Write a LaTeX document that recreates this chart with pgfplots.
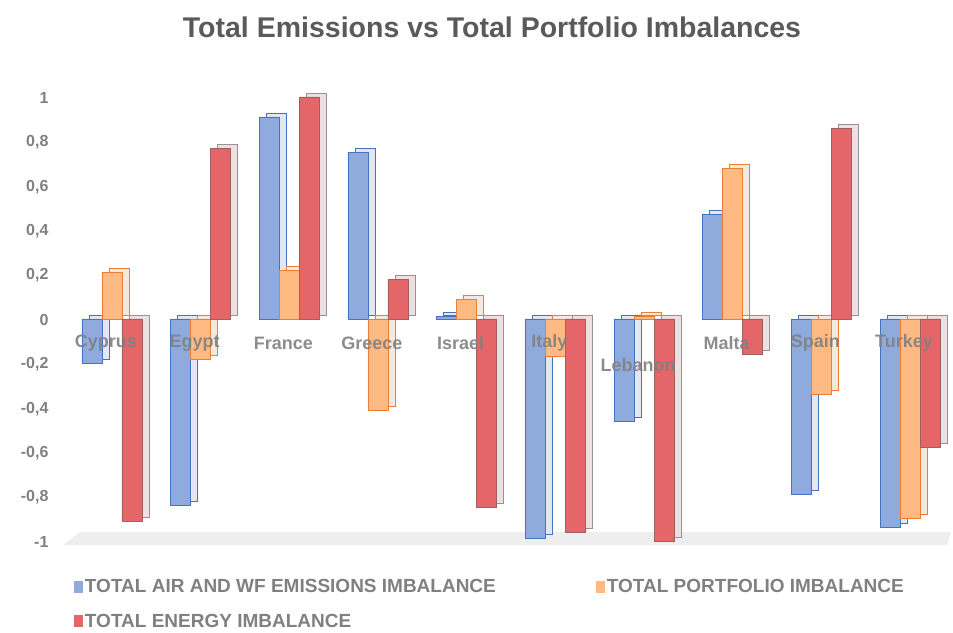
\documentclass[border=0pt]{standalone}
\usepackage{fontspec}
\setmainfont{Liberation Sans}
\usepackage{pgfplots}
\usepackage{pgfplotstable}
\pgfplotsset{compat=1.18}

\definecolor{fblue}{HTML}{8FAADC}
\definecolor{eblue}{HTML}{4472C4}
\definecolor{sblue}{HTML}{E4E7EF}
\definecolor{forange}{HTML}{FFB983}
\definecolor{eorange}{HTML}{ED7D31}
\definecolor{sorange}{HTML}{F4E8DF}
\definecolor{fred}{HTML}{E46668}
\definecolor{ered}{HTML}{A06060}
\definecolor{sred}{HTML}{ECE0E0}
\definecolor{sredge}{HTML}{9A9090}
\definecolor{txtgray}{HTML}{808080}
\definecolor{titlegray}{HTML}{5A5A5A}
\definecolor{floorgray}{HTML}{EEEEEE}

\pgfplotstableread{
i country  air    port   energy
0 Cyprus   -0.20  0.21  -0.91
1 Egypt    -0.84 -0.18   0.77
2 France    0.91  0.22   1.00
3 Greece    0.75 -0.41   0.18
4 Israel    0.01  0.09  -0.85
5 Italy    -0.99 -0.17  -0.96
6 Lebanon  -0.46  0.01  -1.00
7 Malta     0.47  0.68  -0.16
8 Spain    -0.79 -0.34   0.86
9 Turkey   -0.94 -0.90  -0.58
}\data

\begin{document}
\begin{tikzpicture}[x=1pt,y=1pt]
\path[use as bounding box] (0,0) rectangle (953,632);
\fill[floorgray] (63,87) -- (80,100) -- (951,100) -- (947,87) -- cycle;
\node[font=\bfseries\fontsize{28.5}{32}\selectfont, text=titlegray] at (492,605) {Total Emissions vs Total Portfolio Imbalances};
\begin{axis}[
  at={(72pt,91pt)}, anchor=south west,
  scale only axis, width=878pt, height=444pt,
  xmin=-0.45, xmax=9.45, ymin=-1, ymax=1,
  clip=false,
  axis line style={draw=none},
  xtick=\empty,
  ytick={-1,-0.8,-0.6,-0.4,-0.2,0,0.2,0.4,0.6,0.8,1},
  major tick length=0pt,
  /pgf/number format/assume math mode=true,
  /pgf/number format/use comma,
  /pgf/number format/fixed,
  /pgf/number format/precision=1,
  yticklabel style={font=\bfseries\fontsize{16}{19}\selectfont, text=txtgray, anchor=east, xshift=-20pt, yshift=-1pt},
  legend columns=2,
  legend cell align=left,
  legend style={at={(0.002,-0.081)}, anchor=north west, draw=none, fill=none,
    font=\bfseries\fontsize{19}{22}\selectfont, text=txtgray,
    row sep=16pt, inner sep=0pt,
    /tikz/column 2/.style={column sep=98pt}},
  legend image code/.code={\fill[#1, draw=none] (0pt,-6pt) rectangle (9pt,6pt);},
]
% depth (side/top faces)
\addplot[ybar, bar width=20pt, bar shift=-20pt, fill=sblue, draw=eblue, line width=0.8pt, xshift=7pt, yshift=4pt, forget plot] table[x=i,y=air] {\data};
\addplot[ybar, bar width=20pt, bar shift=0pt, fill=sorange, draw=eorange, line width=0.8pt, xshift=7pt, yshift=4pt, forget plot] table[x=i,y=port] {\data};
\addplot[ybar, bar width=20pt, bar shift=20pt, fill=sred, draw=sredge, line width=0.8pt, xshift=7pt, yshift=4pt, forget plot] table[x=i,y=energy] {\data};
% front faces
\addplot[ybar, bar width=20pt, bar shift=-20pt, fill=fblue, draw=eblue, line width=0.8pt] table[x=i,y=air] {\data};
\addlegendentry{TOTAL AIR AND WF EMISSIONS IMBALANCE}
\addplot[ybar, bar width=20pt, bar shift=0pt, fill=forange, draw=eorange, line width=0.8pt] table[x=i,y=port] {\data};
\addlegendentry{TOTAL PORTFOLIO IMBALANCE}
\addplot[ybar, bar width=20pt, bar shift=20pt, fill=fred, draw=ered, line width=0.8pt] table[x=i,y=energy] {\data};
\addlegendentry{TOTAL ENERGY IMBALANCE}
% category labels
\tikzset{cat/.style={font=\bfseries\fontsize{18}{21}\selectfont, text=txtgray, text opacity=0.9, xshift=-6pt, yshift=-24pt}}
\node[cat] at (axis cs:0,0) {Cyprus};
\node[cat] at (axis cs:1,0) {Egypt};
\node[cat] at (axis cs:2,0) {France};
\node[cat] at (axis cs:3,0) {Greece};
\node[cat] at (axis cs:4,0) {Israel};
\node[cat] at (axis cs:5,0) {Italy};
\node[cat, yshift=-22pt] at (axis cs:6,0) {Lebanon};
\node[cat] at (axis cs:7,0) {Malta};
\node[cat] at (axis cs:8,0) {Spain};
\node[cat] at (axis cs:9,0) {Turkey};
\end{axis}
\end{tikzpicture}
\end{document}
